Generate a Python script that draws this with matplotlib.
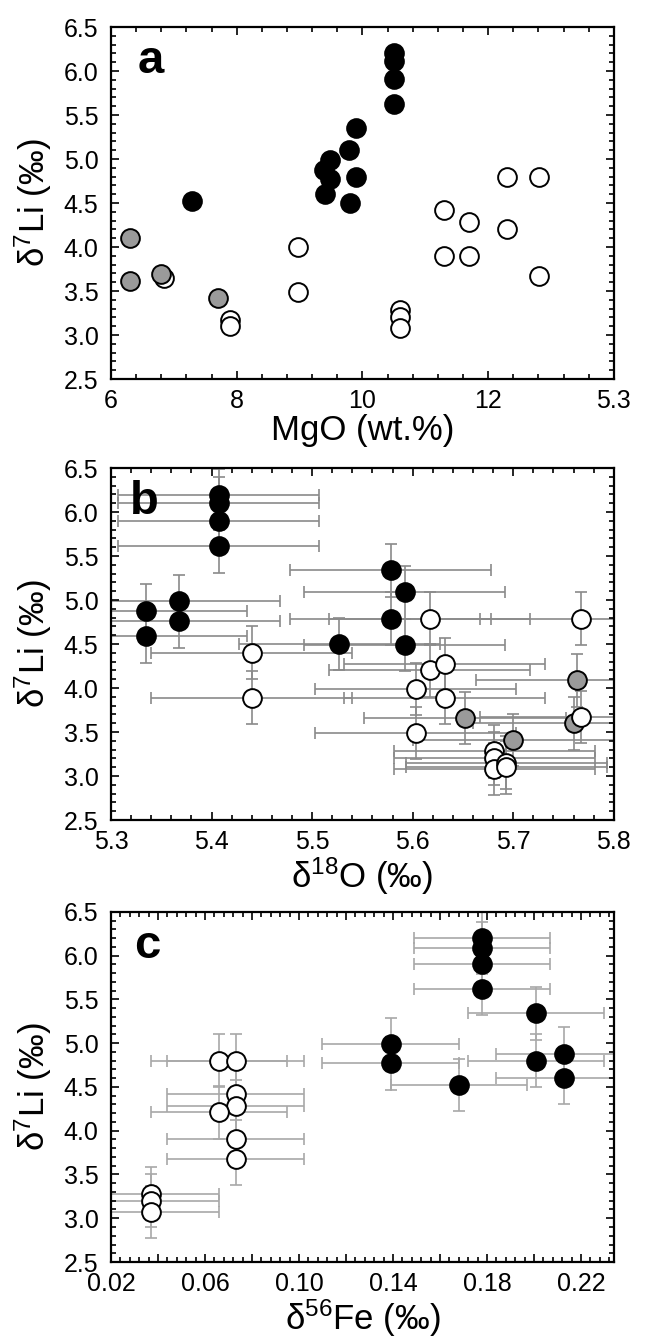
import matplotlib
matplotlib.use('Agg')
import matplotlib.pyplot as plt
from matplotlib.ticker import MultipleLocator, FormatStrFormatter

plt.rcParams['font.family'] = ['Liberation Sans', 'DejaVu Sans']
plt.rcParams['mathtext.fontset'] = 'custom'
plt.rcParams['mathtext.rm'] = 'Liberation Sans'
plt.rcParams['mathtext.it'] = 'Liberation Sans:italic'
plt.rcParams['mathtext.default'] = 'rm'

# ---- panel a: d7Li vs MgO ----
a_black_x = [7.29, 9.40, 9.39, 9.49, 9.49, 9.79, 9.80, 9.90, 9.89, 10.50, 10.50, 10.50, 10.50]
a_black_y = [4.52, 4.60, 4.88, 4.99, 4.77, 5.10, 4.50, 5.35, 4.80, 6.20, 6.11, 5.91, 5.62]
a_gray_x = [6.31, 6.31, 6.80, 7.70]
a_gray_y = [4.10, 3.61, 3.69, 3.42]
a_white_x = [6.84, 7.89, 7.89, 8.98, 8.98, 10.60, 10.60, 10.60,
             11.30, 11.30, 11.70, 11.70, 12.30, 12.30, 12.81, 12.81]
a_white_y = [3.65, 3.17, 3.10, 4.00, 3.49, 3.28, 3.20, 3.08,
             4.42, 3.90, 4.28, 3.90, 4.80, 4.21, 4.80, 3.67]
a_xticks = [6, 8, 10, 12, 14]
a_xticklabels = ['6', '8', '10', '12', '5.3']

# ---- panel b: d7Li vs d18O ----
b_black_x = [5.407, 5.407, 5.407, 5.407, 5.335, 5.335, 5.368, 5.368,
             5.578, 5.592, 5.578, 5.592, 5.527]
b_black_y = [6.19, 6.10, 5.90, 5.61, 4.88, 4.59, 4.99, 4.76,
             5.34, 5.09, 4.79, 4.49, 4.50]
b_gray_x = [5.763, 5.760, 5.652, 5.700]
b_gray_y = [4.09, 3.60, 3.66, 3.41]
b_white_x = [5.617, 5.767, 5.440, 5.440, 5.617, 5.632, 5.603, 5.632,
             5.603, 5.767, 5.681, 5.681, 5.681, 5.693, 5.693]
b_white_y = [4.79, 4.79, 4.40, 3.89, 4.20, 4.27, 3.99, 3.89,
             3.49, 3.67, 3.28, 3.20, 3.08, 3.15, 3.10]
b_xerr = 0.10
b_yerr = 0.30
b_xticks = [5.3, 5.4, 5.5, 5.6, 5.7, 5.8]
b_xticklabels = ['5.3', '5.4', '5.5', '5.6', '5.7', '5.8']

# ---- panel c: d7Li vs d56Fe ----
c_black_x = [0.178, 0.178, 0.178, 0.178, 0.201, 0.201, 0.213, 0.213, 0.139, 0.139, 0.168]
c_black_y = [6.20, 6.09, 5.90, 5.62, 5.34, 4.80, 4.88, 4.60, 4.99, 4.77, 4.52]
c_white_x = [0.066, 0.073, 0.073, 0.073, 0.066, 0.073, 0.073, 0.037, 0.037, 0.037]
c_white_y = [4.80, 4.80, 4.42, 4.28, 4.21, 3.91, 3.68, 3.28, 3.20, 3.07]
c_xerr = 0.029
c_yerr = 0.30
c_xticks = [0.02, 0.04, 0.06, 0.08, 0.10, 0.12, 0.14, 0.16, 0.18, 0.20, 0.22]
c_xticklabels = ['0.02', '', '0.06', '', '0.10', '', '0.14', '', '0.18', '', '0.22']

GRAY = '#9a9a9a'
MS = 13.5


def _points(ax, x, y, face, z):
    ax.plot(x, y, 'o', ms=MS, mfc=face, mec='black', mew=1.4, ls='none', zorder=z)


def _errors(ax, x, y, xerr, yerr, color):
    ax.errorbar(x, y, xerr=xerr, yerr=yerr, fmt='none', ecolor=color,
                elinewidth=1.2, capsize=4, capthick=1.2, zorder=1)


def _style(ax, xlim, xticks, xticklabels, xminor, xlabel, letter, letter_x):
    ax.set_xlim(*xlim)
    ax.set_ylim(2.5, 6.5)
    ax.set_xticks(xticks)
    ax.set_xticklabels(xticklabels)
    ax.xaxis.set_minor_locator(MultipleLocator(xminor))
    ax.yaxis.set_major_locator(MultipleLocator(0.5))
    ax.yaxis.set_minor_locator(MultipleLocator(0.1))
    ax.yaxis.set_major_formatter(FormatStrFormatter('%.1f'))
    ax.tick_params(which='both', direction='in', top=True, right=True, width=1.2)
    ax.tick_params(which='major', length=6, labelsize=18)
    ax.tick_params(which='minor', length=3.5)
    ax.tick_params(axis='y', pad=9)
    ax.tick_params(axis='x', pad=7)
    for s in ax.spines.values():
        s.set_linewidth(1.6)
    ax.set_xlabel(xlabel, fontsize=25, labelpad=1)
    ax.set_ylabel('δ$^{7}$Li (‰)', fontsize=25, labelpad=7)
    ax.text(letter_x, 0.869, letter, transform=ax.transAxes, fontsize=34,
            fontweight='bold', va='baseline', ha='left')


fig = plt.figure(figsize=(6.53, 13.38), dpi=100)
ax_a = fig.add_axes([0.170, 0.7167, 0.770, 0.2631])
ax_b = fig.add_axes([0.170, 0.3871, 0.770, 0.2631])
ax_c = fig.add_axes([0.170, 0.0568, 0.770, 0.2616])

# a
_points(ax_a, a_white_x, a_white_y, 'white', 2)
_points(ax_a, a_gray_x, a_gray_y, GRAY, 3)
_points(ax_a, a_black_x, a_black_y, 'black', 4)
_style(ax_a, (6, 14), a_xticks, a_xticklabels, 0.4, 'MgO (wt.%)', 'a', 0.052)

# b
_errors(ax_b, b_white_x + b_gray_x + b_black_x, b_white_y + b_gray_y + b_black_y,
        b_xerr, b_yerr, '#8a8a8a')
_points(ax_b, b_black_x, b_black_y, 'black', 2)
_points(ax_b, b_gray_x, b_gray_y, GRAY, 3)
_points(ax_b, b_white_x, b_white_y, 'white', 4)
_style(ax_b, (5.3, 5.8), b_xticks, b_xticklabels, 0.02, 'δ$^{18}$O (‰)', 'b', 0.038)

# c
_errors(ax_c, c_white_x + c_black_x, c_white_y + c_black_y, c_xerr, c_yerr, '#a8a8a8')
_points(ax_c, c_white_x, c_white_y, 'white', 2)
_points(ax_c, c_black_x, c_black_y, 'black', 3)
_style(ax_c, (0.02, 0.234), c_xticks, c_xticklabels, 0.004, 'δ$^{56}$Fe (‰)', 'c', 0.046)

fig.savefig('out.png', dpi=100)
plt.close(fig)
